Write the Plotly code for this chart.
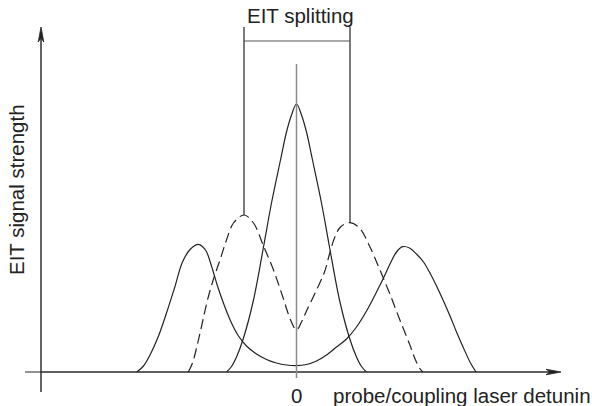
import plotly.graph_objects as go

# ---- data (detuning in arbitrary units, signal in arbitrary units) ----
center_x = [-7.0, -6.5, -6.0, -5.3, -4.3, -3.3, -2.5, -1.6, -1.0, -0.5, 0.0,
            0.5, 1.0, 1.6, 2.5, 3.3, 4.3, 5.3, 6.0, 6.5, 7.0]
center_y = [0.0, 0.55, 1.5, 3.4, 7.2, 12.5, 16.9, 21.2, 24.0, 25.7, 26.8,
            25.7, 24.0, 21.2, 16.9, 12.5, 7.2, 3.4, 1.5, 0.55, 0.0]

outer_x = [-15.98, -15.3, -14.6, -13.8, -13.0, -12.2, -11.4, -10.6, -9.82, -9.1,
           -8.5, -7.9, -7.2, -6.5, -5.8, -5.0, -4.0, -3.0, -2.0, -1.0, 0.0,
           1.0, 2.0, 3.0, 4.0, 5.0, 6.0, 7.0, 8.0, 8.7, 9.4, 10.0, 10.62,
           11.3, 12.0, 12.7, 13.4, 14.0, 14.7, 15.35, 16.0, 16.7, 17.4, 17.95]
outer_y = [0.0, 0.6, 1.8, 3.6, 5.9, 8.4, 11.0, 12.3, 12.77, 12.2,
           10.6, 8.6, 6.6, 4.9, 3.6, 2.6, 1.8, 1.25, 0.9, 0.7, 0.63,
           0.75, 1.1, 1.7, 2.5, 3.3, 4.5, 6.1, 8.0, 9.4, 10.9, 12.0, 12.53,
           12.4, 11.8, 11.0, 9.8, 8.6, 7.1, 5.6, 4.0, 2.4, 0.9, 0.0]

dashed_x = [-10.82, -10.4, -9.9, -9.4, -8.9, -8.3, -7.65, -7.0, -6.3, -5.25,
            -4.3, -3.3, -2.3, -1.4, -0.55, 0.0, 0.5, 1.0, 2.0, 2.8, 3.3, 3.8,
            4.4, 5.35, 6.3, 7.3, 8.3, 9.3, 10.3, 11.3, 11.9, 12.3, 12.62]
dashed_y = [0.0, 0.9, 2.8, 5.0, 7.2, 9.3, 11.2, 13.2, 14.9, 15.7,
            14.9, 12.6, 10.2, 7.6, 5.1, 4.2, 5.0, 6.1, 8.2, 10.0, 11.8, 13.4,
            14.5, 14.93, 14.4, 12.6, 10.3, 7.9, 5.3, 2.8, 1.2, 0.4, 0.0]

x_label = "probe/coupling laser detunin"
y_label = "EIT signal strength"
split_label = "EIT splitting"
zero_label = "0"

# ---- layout helpers (pixel -> data) ----
def X(px):
    return (px - 296.5) / 10.0

def Y(py):
    return (372.0 - py) / 10.0

INK = "#222222"
FONT = "Liberation Sans, Arial, sans-serif"

fig = go.Figure()

line_style = dict(color=INK, width=1.2, shape="spline", smoothing=1.0)
fig.add_trace(go.Scatter(x=outer_x, y=outer_y, mode="lines", line=line_style, hoverinfo="skip"))
fig.add_trace(go.Scatter(x=center_x, y=center_y, mode="lines", line=line_style, hoverinfo="skip"))
fig.add_trace(go.Scatter(x=dashed_x, y=dashed_y, mode="lines",
                         line=dict(color=INK, width=1.2, shape="spline", smoothing=1.0, dash="10px,5px"),
                         hoverinfo="skip"))

shapes = []
# axes
shapes.append(dict(type="line", x0=X(25), x1=X(41), y0=0, y1=0, xref="x", yref="y",
                   line=dict(color="#777777", width=1.6)))
shapes.append(dict(type="line", x0=X(41), x1=X(552), y0=0, y1=0, xref="x", yref="y",
                   line=dict(color="#2a2a2a", width=1.6)))
shapes.append(dict(type="line", x0=X(41), x1=X(41), y0=Y(392), y1=Y(36), xref="x", yref="y",
                   line=dict(color=INK, width=1.4)))
# arrowheads
shapes.append(dict(type="path", xref="x", yref="y",
                   path=f"M{X(561)},{Y(372)} L{X(546)},{Y(369.2)} L{X(550)},{Y(372)} L{X(546)},{Y(374.8)} Z",
                   fillcolor=INK, line=dict(color=INK, width=0.8)))
shapes.append(dict(type="path", xref="x", yref="y",
                   path=f"M{X(41)},{Y(27)} L{X(38.2)},{Y(42)} L{X(41)},{Y(38)} L{X(43.8)},{Y(42)} Z",
                   fillcolor=INK, line=dict(color=INK, width=0.8)))
# central reference line
shapes.append(dict(type="line", x0=0, x1=0, y0=Y(378), y1=Y(64), xref="x", yref="y",
                   line=dict(color="#8a8a8a", width=1.5)))

# EIT splitting bracket at the dashed peaks
mid = dashed_x.index(0.0)
li = max(range(0, mid), key=lambda i: dashed_y[i])
ri = max(range(mid, len(dashed_x)), key=lambda i: dashed_y[i])
top = Y(27)
bar = Y(41)
shapes.append(dict(type="line", x0=dashed_x[li], x1=dashed_x[li], y0=dashed_y[li], y1=top,
                   xref="x", yref="y", line=dict(color=INK, width=1.2)))
shapes.append(dict(type="line", x0=dashed_x[ri], x1=dashed_x[ri], y0=dashed_y[ri], y1=top,
                   xref="x", yref="y", line=dict(color=INK, width=1.2)))
shapes.append(dict(type="line", x0=dashed_x[li], x1=dashed_x[ri], y0=bar, y1=bar,
                   xref="x", yref="y", line=dict(color="#555555", width=1.2)))

fig.update_layout(shapes=shapes)

annos = [
    dict(x=X(300), y=Y(15), text=split_label, xanchor="center", yanchor="middle"),
    dict(x=0, y=Y(395), text=zero_label, xanchor="center", yanchor="middle"),
    dict(x=X(331), y=Y(395), text=x_label, xanchor="left", yanchor="middle"),
    dict(x=X(16), y=Y(190), text=y_label, textangle=-90, xanchor="center", yanchor="middle"),
]
for a in annos:
    fig.add_annotation(showarrow=False, xref="x", yref="y",
                       font=dict(family=FONT, size=20.5, color=INK), **a)

fig.update_layout(
    width=592, height=406,
    margin=dict(l=0, r=0, t=0, b=0, pad=0),
    paper_bgcolor="white", plot_bgcolor="white",
    showlegend=False,
    xaxis=dict(visible=False, range=[X(0), X(592)], fixedrange=True),
    yaxis=dict(visible=False, range=[Y(406), Y(0)], fixedrange=True),
)

fig.write_html("out.html")
